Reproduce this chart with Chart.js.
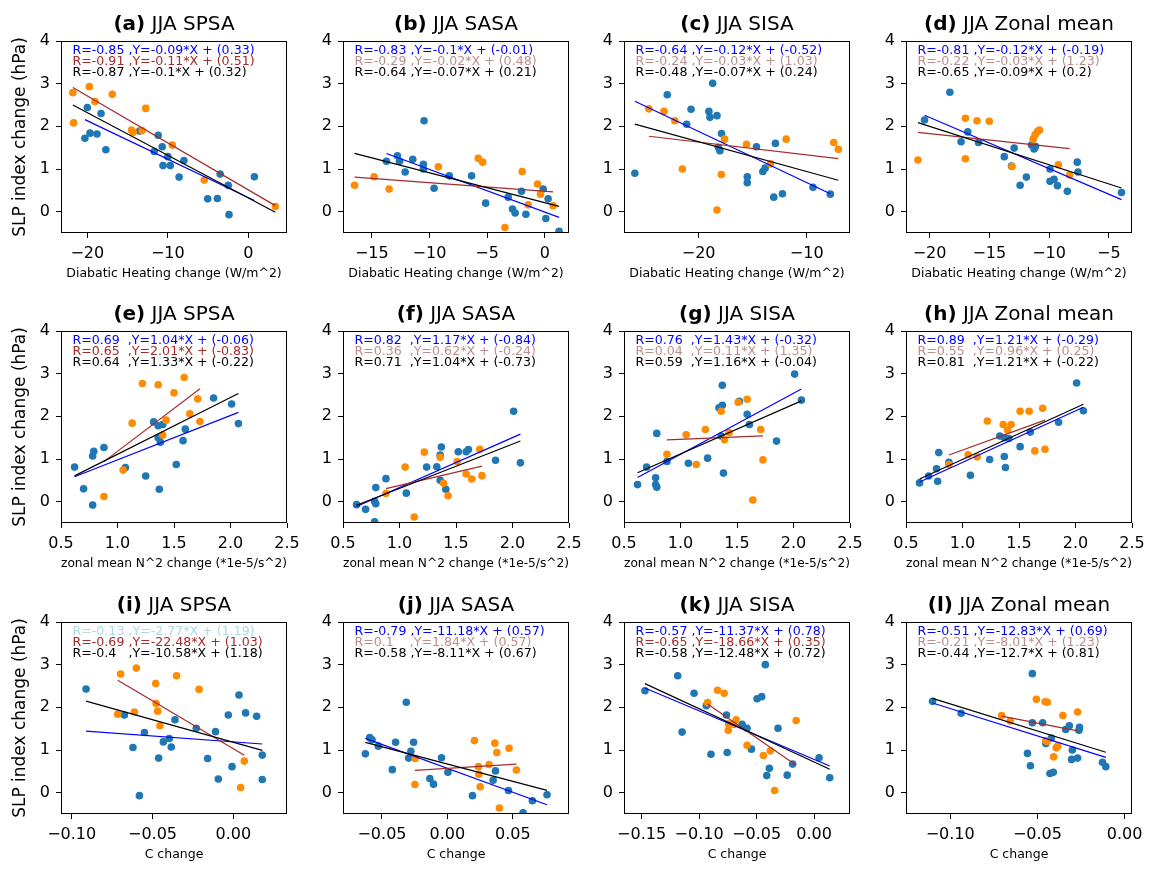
<!DOCTYPE html>
<html>
<head>
<meta charset="utf-8">
<script src="https://cdn.jsdelivr.net/npm/chart.js@4.4.1/dist/chart.umd.min.js"></script>
<style>
  body { margin: 0; background: #fff; }
  #fig { position: relative; width: 1149px; height: 869px; overflow: hidden; background: #fff; }
  #fig canvas { position: absolute; }
</style>
</head>
<body>
<div id="fig"></div>
<script>
// panel names, one row per x variable, one column per region
var letters = ['a', 'b', 'c', 'd', 'e', 'f', 'g', 'h', 'i', 'j', 'k', 'l'];
var regions = ['SPSA', 'SASA', 'SISA', 'Zonal mean'];
var xTitles = ['Diabatic Heating change (W/m^2)', 'zonal mean N^2 change (*1e-5/s^2)', 'C change'];
var yTitle = 'SLP index change (hPa)';

// x axis range / tick step / decimals per panel
var xMin = [-23.27, -17.5, -26.9, -21.97, 0.5, 0.5, 0.5, 0.5, -0.1066, -0.0798, -0.1653, -0.1253];
var xMax = [4.8, 2.1, -6.0, -3.06, 2.5, 2.5, 2.5, 2.5, 0.0332, 0.093, 0.0312, 0.0042];
var xStep = [10, 5, 10, 5, 0.5, 0.5, 0.5, 0.5, 0.05, 0.05, 0.05, 0.05];
var xDec = [0, 0, 0, 0, 1, 1, 1, 1, 2, 2, 2, 2];

// blue group points, panel a..l
var blueX = [
  [-20.0, -20.3, -19.67, -18.8, -18.3, -17.7, -13.5, -11.2, -11.7, -10.7, -10.0, -10.6, -9.7, -8.0, -8.6, -5.05, -3.85, -3.5, -2.5, -2.4, 0.75],
  [-13.73, -12.78, -12.6, -12.11, -11.45, -10.53, -10.53, -10.47, -9.6, -8.28, -6.35, -5.13, -3.17, -2.8, -2.57, -2.02, -1.64, -0.14, 0.09, 0.29, 1.24],
  [-25.9, -22.9, -21.1, -20.7, -19.05, -18.95, -18.7, -18.3, -17.88, -18.18, -18.03, -15.5, -15.5, -14.65, -14.06, -13.85, -13.05, -12.9, -12.25, -9.42, -7.82],
  [-20.42, -18.3, -17.36, -16.8, -15.9, -13.75, -13.14, -12.92, -12.42, -11.9, -11.47, -11.25, -11.14, -9.92, -9.92, -9.58, -9.3, -8.47, -7.64, -7.58, -3.94],
  [0.62, 0.70, 0.78, 0.79, 0.78, 0.88, 1.07, 1.25, 1.32, 1.36, 1.37, 1.36, 1.38, 1.40, 1.52, 1.58, 1.60, 1.85, 2.01, 2.07],
  [0.62, 0.70, 0.78, 0.79, 0.79, 0.78, 0.88, 1.06, 1.24, 1.33, 1.37, 1.36, 1.36, 1.41, 1.52, 1.59, 1.61, 1.85, 2.01, 2.07],
  [0.62, 0.70, 0.78, 0.78, 0.79, 0.79, 0.88, 1.07, 1.24, 1.34, 1.37, 1.37, 1.38, 1.36, 1.52, 1.59, 1.61, 1.85, 2.01, 2.07],
  [0.62, 0.70, 0.77, 0.78, 0.79, 0.88, 1.07, 1.24, 1.33, 1.37, 1.37, 1.38, 1.41, 1.51, 1.60, 1.85, 2.01, 2.07],
  [-0.0911, -0.0674, -0.0621, -0.0581, -0.055, -0.0462, -0.0433, -0.0396, -0.0384, -0.0361, -0.0229, -0.0159, -0.011, -0.0093, -0.0031, -0.0008, 0.0035, 0.0076, 0.0144, 0.0179, 0.0179],
  [-0.0627, -0.0594, -0.0576, -0.0528, -0.0396, -0.0421, -0.0296, -0.0279, -0.0258, -0.0314, -0.0134, -0.0106, -0.0045, 0.0004, 0.0192, 0.0368, 0.035, 0.0467, 0.0579, 0.065, 0.0762],
  [-0.1471, -0.1186, -0.1148, -0.1044, -0.0937, -0.0897, -0.0762, -0.0756, -0.0626, -0.0583, -0.0545, -0.0496, -0.0456, -0.0424, -0.0412, -0.0389, -0.0314, -0.0234, -0.0187, 0.0043, 0.0136],
  [-0.1101, -0.0937, -0.0557, -0.054, -0.0529, -0.0529, -0.047, -0.0452, -0.0428, -0.0409, -0.042, -0.0338, -0.0317, -0.03, -0.0304, -0.027, -0.0262, -0.0259, -0.0127, -0.0108]
];
var blueY = [
  [2.44, 1.72, 1.84, 1.82, 2.30, 1.45, 1.89, 1.79, 1.41, 1.52, 1.29, 1.08, 1.08, 1.20, 0.81, 0.30, 0.31, 0.88, 0.62, -0.07, 0.82],
  [1.18, 1.31, 1.18, 0.93, 1.23, 1.11, 1.0, 2.13, 0.55, 0.84, 0.84, 0.20, 0.34, 0.06, -0.03, 0.48, -0.06, 0.53, -0.16, 0.30, -0.46],
  [0.90, 2.74, 2.05, 2.40, 2.35, 2.21, 3.01, 2.25, 1.83, 1.51, 1.43, 0.82, 0.68, 1.52, 0.94, 1.02, 0.34, 1.60, 0.42, 0.57, 0.41],
  [2.15, 2.80, 1.64, 1.87, 1.62, 1.29, 1.07, 1.49, 0.62, 0.81, 1.56, 1.47, 1.53, 1.0, 0.71, 0.76, 0.61, 0.48, 1.16, 0.93, 0.45],
  [0.81, 0.30, 1.07, 1.18, -0.08, 1.27, 0.80, 0.60, 1.87, 1.78, 0.29, 1.50, 1.39, 1.81, 0.87, 1.43, 1.70, 2.43, 2.29, 1.83],
  [-0.07, -0.18, 0.01, -0.05, 0.33, -0.47, 0.54, 0.20, 0.81, 0.82, 1.28, 1.09, 0.50, 0.29, 1.17, 1.17, 1.22, 0.97, 2.12, 0.91],
  [0.40, 0.81, 0.56, 0.40, 0.34, 1.60, 0.94, 0.90, 1.02, 2.20, 2.26, 2.73, 0.67, 1.54, 2.35, 2.05, 1.81, 1.42, 2.99, 2.38],
  [0.44, 0.60, 0.77, 0.48, 1.15, 0.92, 0.62, 0.99, 1.54, 1.50, 1.06, 0.80, 1.48, 1.29, 1.63, 1.86, 2.78, 2.13],
  [2.43, 1.82, 1.06, -0.07, 1.41, 0.81, 1.19, 1.27, 1.07, 1.71, 1.51, 0.80, 1.43, 0.32, 1.82, 0.61, 2.29, 1.87, 1.79, 0.88, 0.31],
  [0.91, 1.29, 1.24, 1.09, 1.18, 0.54, 0.81, 0.97, 1.18, 2.12, 0.33, 0.20, 0.82, 0.48, -0.07, 0.51, 0.29, 0.05, -0.47, -0.19, -0.05],
  [2.39, 2.74, 1.42, 2.33, 2.04, 0.90, 1.82, 0.94, 1.60, 1.51, 1.02, 2.20, 2.25, 3.00, 0.40, 0.57, 1.51, 0.41, 0.67, 0.82, 0.35],
  [2.14, 1.86, 0.92, 0.63, 2.79, 1.64, 1.64, 1.15, 0.45, 0.48, 1.28, 1.48, 1.57, 1.0, 0.78, 0.81, 1.46, 1.53, 0.71, 0.61]
];

// orange group points, panel a..l
var orangeX = [
  [-21.8, -21.7, -19.75, -19.05, -16.9, -14.5, -14.3, -13.2, -12.75, -9.45, -5.47, 3.35],
  [-16.5, -14.8, -13.5, -9.23, -5.77, -5.39, -3.46, -1.96, -1.44, -0.63, -0.37, 0.72],
  [-24.6, -23.2, -22.2, -21.5, -17.9, -18.3, -17.6, -15.57, -13.35, -11.9, -7.5, -7.08],
  [-20.97, -17.0, -17.0, -16.03, -15.0, -13.1, -11.33, -11.17, -10.97, -10.8, -9.22, -8.28],
  [1.22, 1.36, 1.50, 1.59, 1.71, 1.64, 1.73, 1.43, 1.40, 1.13, 1.05, 0.88],
  [0.88, 1.05, 1.13, 1.22, 1.36, 1.39, 1.43, 1.51, 1.59, 1.64, 1.71, 1.73],
  [0.88, 1.05, 1.14, 1.22, 1.36, 1.39, 1.43, 1.51, 1.59, 1.64, 1.71, 1.73],
  [0.88, 1.05, 1.13, 1.22, 1.36, 1.40, 1.43, 1.51, 1.59, 1.64, 1.71, 1.73],
  [-0.0715, -0.0697, -0.0612, -0.06, -0.048, -0.0478, -0.0468, -0.0454, -0.0351, -0.0212, 0.0068, 0.0045],
  [-0.0246, -0.0248, 0.0207, 0.0238, 0.0241, 0.0251, 0.0319, 0.0363, 0.0378, 0.0398, 0.0472, 0.0528],
  [-0.0926, -0.0839, -0.0782, -0.0747, -0.0744, -0.0678, -0.0698, -0.0583, -0.0441, -0.0381, -0.0343, -0.0156],
  [-0.0705, -0.0656, -0.0506, -0.0456, -0.0443, -0.0452, -0.0445, -0.0392, -0.0384, -0.0407, -0.0354, -0.027]
];
var orangeY = [
  [2.79, 2.08, 2.93, 2.58, 2.75, 1.91, 1.86, 1.90, 2.42, 1.56, 0.74, 0.12],
  [0.62, 0.82, 0.53, 1.05, 1.25, 1.16, -0.37, 0.94, 0.16, 0.65, 0.41, 0.14],
  [2.41, 2.35, 2.13, 1.0, 0.87, 0.04, 1.70, 1.58, 1.12, 1.70, 1.62, 1.46],
  [1.21, 2.19, 1.24, 2.13, 2.12, 1.06, 1.70, 1.80, 1.88, 1.91, 1.10, 0.86],
  [2.77, 2.74, 2.55, 2.91, 2.41, 2.06, 1.88, 1.91, 1.56, 1.84, 0.74, 0.12],
  [0.19, 0.81, -0.36, 1.16, 1.04, 0.43, 0.14, 0.94, 0.65, 0.53, 1.23, 0.61],
  [1.11, 1.57, 0.87, 1.69, 2.12, 1.45, 1.62, 2.33, 2.40, 0.04, 1.69, 0.98],
  [0.87, 1.10, 1.05, 1.89, 1.81, 1.68, 1.81, 2.12, 2.12, 1.19, 2.19, 1.23],
  [1.84, 2.78, 1.89, 2.92, 2.56, 2.09, 1.91, 1.57, 2.74, 2.42, 0.74, 0.12],
  [0.80, 0.19, 1.22, 0.61, 0.43, 0.14, 0.66, 1.16, 0.94, -0.36, 1.04, 0.53],
  [2.11, 2.40, 2.33, 1.46, 1.61, 1.71, 1.60, 1.11, 0.87, 0.98, 0.05, 1.69],
  [1.81, 1.68, 2.19, 2.13, 2.12, 1.22, 1.20, 1.05, 1.09, 0.84, 1.81, 1.89]
];

// regression results: blue group, orange group (brown line), all points (black line)
var rBlue = [-0.85, -0.83, -0.64, -0.81, 0.69, 0.82, 0.76, 0.89, -0.13, -0.79, -0.57, -0.51];
var slopeBlue = [-0.09, -0.1, -0.12, -0.12, 1.04, 1.17, 1.43, 1.21, -2.77, -11.18, -11.37, -12.83];
var icptBlue = [0.33, -0.01, -0.52, -0.19, -0.06, -0.84, -0.32, -0.29, 1.19, 0.57, 0.78, 0.69];
var sigBlue = [1, 1, 1, 1, 1, 1, 1, 1, 0, 1, 1, 1];
var rBrown = [-0.91, -0.29, -0.24, -0.22, 0.65, 0.36, 0.04, 0.55, -0.69, 0.1, -0.65, -0.21];
var slopeBrown = [-0.11, -0.02, -0.03, -0.03, 2.01, 0.62, 0.11, 0.96, -22.48, 1.84, -18.66, -8.01];
var icptBrown = [0.51, 0.48, 1.03, 1.23, -0.83, -0.24, 1.35, 0.25, 1.03, 0.57, 0.35, 1.23];
var sigBrown = [1, 0, 0, 0, 1, 0, 0, 0, 1, 0, 1, 0];
var rBlack = [-0.87, -0.64, -0.48, -0.65, 0.64, 0.71, 0.59, 0.81, -0.4, -0.58, -0.58, -0.44];
var slopeBlack = [-0.1, -0.07, -0.07, -0.09, 1.33, 1.04, 1.16, 1.21, -10.58, -8.11, -12.48, -12.7];
var icptBlack = [0.32, 0.21, 0.24, 0.2, -0.22, -0.73, -0.04, -0.22, 1.18, 0.67, 0.72, 0.81];

var colLeft = [61, 343, 624, 906];
var rowTop = [41, 331, 622];
var plotW = 226, plotH = 192;
var padL = 60, padR = 30, padT = 40, padB = 55;
var FONT = 'DejaVu Sans';

function pts(xs, ys) {
  return xs.map(function (x, k) { return { x: x, y: ys[k] }; });
}

function fitLine(xs, m, b) {
  var x0 = Math.min.apply(null, xs), x1 = Math.max.apply(null, xs);
  return [{ x: x0, y: m * x0 + b }, { x: x1, y: m * x1 + b }];
}

function fmtTick(dec) {
  return function (v) {
    if (Math.abs(v) < 1e-9) v = 0;
    return v.toFixed(dec).replace('-', '\u2212');
  };
}

function eqText(ctx, r, m, b) {
  var rs = String(r);
  var sp = ctx.measureText(' ').width;
  var n = 1 + Math.round((ctx.measureText('-0.85').width - ctx.measureText(rs).width) / sp);
  return 'R=' + rs + ' '.repeat(Math.max(n, 1)) + ',Y=' + m + '*X + (' + b + ')';
}

function panelPlugin(i) {
  return {
    id: 'panel' + i,
    afterDraw: function (chart) {
      var a = chart.chartArea, ctx = chart.ctx;
      ctx.save();
      // frame
      ctx.strokeStyle = '#000';
      ctx.lineWidth = 1;
      ctx.strokeRect(Math.round(a.left) + 0.5, Math.round(a.top) + 0.5, Math.round(a.right - a.left) - 1, Math.round(a.bottom - a.top) - 1);

      // title: bold letter + region
      var t1 = '(' + letters[i] + ')', t2 = ' JJA ' + regions[i % 4];
      ctx.font = 'bold 20px "' + FONT + '"';
      var w1 = ctx.measureText(t1).width;
      ctx.font = '20px "' + FONT + '"';
      var w2 = ctx.measureText(t2).width;
      var x0 = (a.left + a.right) / 2 - (w1 + w2) / 2;
      ctx.fillStyle = '#000';
      ctx.textBaseline = 'alphabetic';
      ctx.textAlign = 'left';
      ctx.font = 'bold 20px "' + FONT + '"';
      ctx.fillText(t1, x0, a.top - 11);
      ctx.font = '20px "' + FONT + '"';
      ctx.fillText(t2, x0 + w1, a.top - 11);

      // fit equations
      ctx.font = '12.6px "' + FONT + '"';
      ctx.textBaseline = 'middle';
      var tx = a.left + 11.5;
      ctx.fillStyle = sigBlue[i] ? '#0000ff' : '#add8e6';
      ctx.fillText(eqText(ctx, rBlue[i], slopeBlue[i], icptBlue[i]), tx, a.top + 9.5);
      ctx.fillStyle = sigBrown[i] ? '#a52a2a' : '#bc8f8f';
      ctx.fillText(eqText(ctx, rBrown[i], slopeBrown[i], icptBrown[i]), tx, a.top + 20.5);
      ctx.fillStyle = '#000';
      ctx.fillText(eqText(ctx, rBlack[i], slopeBlack[i], icptBlack[i]), tx, a.top + 31.5);
      ctx.restore();
    }
  };
}

var fig = document.getElementById('fig');

for (var i = 0; i < 12; i++) {
  var row = Math.floor(i / 4), col = i % 4;
  var cv = document.createElement('canvas');
  cv.width = plotW + padL + padR;
  cv.height = plotH + padT + padB;
  cv.style.left = (colLeft[col] - padL) + 'px';
  cv.style.top = (rowTop[row] - padT) + 'px';
  fig.appendChild(cv);

  var allX = blueX[i].concat(orangeX[i]);

  new Chart(cv, {
    type: 'scatter',
    data: {
      datasets: [
        { type: 'line', data: fitLine(allX, slopeBlack[i], icptBlack[i]), borderColor: '#000', borderWidth: 1.2, pointRadius: 0, fill: false, order: 0 },
        { type: 'line', data: fitLine(orangeX[i], slopeBrown[i], icptBrown[i]), borderColor: '#a52a2a', borderWidth: 1.2, pointRadius: 0, fill: false, order: 1 },
        { type: 'line', data: fitLine(blueX[i], slopeBlue[i], icptBlue[i]), borderColor: '#0000ff', borderWidth: 1.2, pointRadius: 0, fill: false, order: 2 },
        { data: pts(orangeX[i], orangeY[i]), backgroundColor: '#ff8c00', borderWidth: 0, pointRadius: 3.8, order: 3 },
        { data: pts(blueX[i], blueY[i]), backgroundColor: '#1f77b4', borderWidth: 0, pointRadius: 3.8, order: 4 }
      ]
    },
    options: {
      responsive: false,
      animation: false,
      devicePixelRatio: 1,
      layout: { padding: { left: 0, right: padR, top: padT, bottom: 0 } },
      plugins: { legend: { display: false }, tooltip: { enabled: false } },
      scales: {
        x: {
          type: 'linear',
          min: xMin[i], max: xMax[i],
          afterFit: function (s) { s.height = padB; },
          border: { display: false },
          grid: { display: true, drawOnChartArea: false, drawTicks: true, tickLength: 5, color: '#000' },
          ticks: {
            stepSize: xStep[i], includeBounds: false, autoSkip: false, maxRotation: 0,
            color: '#000', padding: 6, font: { family: FONT, size: 16 },
            callback: fmtTick(xDec[i])
          },
          title: {
            display: true, text: xTitles[row], color: '#000',
            font: { family: FONT, size: 12.5 }, padding: { top: 0, bottom: 7 }
          }
        },
        y: {
          type: 'linear',
          min: -0.5, max: 4,
          afterFit: function (s) { s.width = padL; },
          border: { display: false },
          grid: { display: true, drawOnChartArea: false, drawTicks: true, tickLength: 5, color: '#000' },
          ticks: {
            stepSize: 1, includeBounds: false, color: '#000', padding: 6,
            font: { family: FONT, size: 16 },
            callback: fmtTick(0)
          },
          title: {
            display: col === 0, text: yTitle, color: '#000',
            font: { family: FONT, size: 17 }, padding: { top: 9, bottom: 0 }
          }
        }
      }
    },
    plugins: [panelPlugin(i)]
  });
}
</script>
</body>
</html>
